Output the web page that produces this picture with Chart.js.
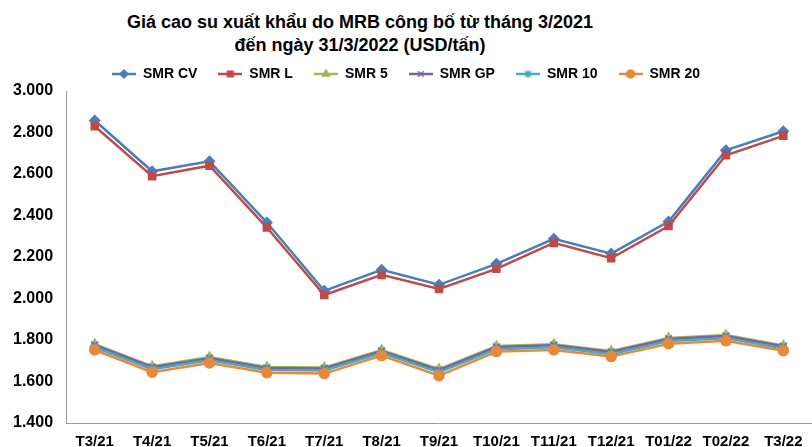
<!DOCTYPE html>
<html>
<head>
<meta charset="utf-8">
<script src="https://cdn.jsdelivr.net/npm/chart.js@4"></script>
<style>
  html, body { margin: 0; padding: 0; background: #fff; }
  #wrap { position: relative; width: 812px; height: 447px; }
  #title {
    position: absolute; left: 0; top: 11px; width: 720px;
    text-align: center; font: bold 18px "Liberation Sans", Arial, sans-serif;
    line-height: 23px; color: #000;
  }
  canvas { position: absolute; left: 0; top: 0; }
</style>
</head>
<body>
<div id="wrap">
  <div id="title">Giá cao su xuất khẩu do MRB công bố từ tháng 3/2021<br>đến ngày 31/3/2022 (USD/tấn)</div>
  <canvas id="chart" width="812" height="447"></canvas>
</div>
<script>
// categories and series (USD/tấn)
const months = ['T3/21', 'T4/21', 'T5/21', 'T6/21', 'T7/21', 'T8/21', 'T9/21',
                'T10/21', 'T11/21', 'T12/21', 'T01/22', 'T02/22', 'T3/22'];
const smrCV = [2858, 2613, 2661, 2366, 2037, 2138, 2066, 2167, 2288, 2216, 2371, 2714, 2806];
const smrL  = [2830, 2589, 2640, 2342, 2017, 2114, 2046, 2143, 2268, 2194, 2349, 2690, 2784];
const smr5  = [1780, 1674, 1718, 1670, 1668, 1752, 1660, 1771, 1780, 1747, 1810, 1824, 1774];
const smrGP = [1775, 1669, 1712, 1665, 1663, 1747, 1655, 1766, 1775, 1742, 1805, 1819, 1769];
const smr10 = [1765, 1659, 1702, 1655, 1653, 1737, 1645, 1756, 1765, 1732, 1795, 1809, 1759];
const smr20 = [1752, 1645, 1689, 1642, 1638, 1725, 1628, 1744, 1752, 1720, 1782, 1796, 1748];
const yTicks = [1400, 1600, 1800, 2000, 2200, 2400, 2600, 2800, 3000];

const FONT = '"Liberation Sans", Arial, sans-serif';

const series = [
    { label: 'SMR CV', data: smrCV, color: '#4A7EBB', style: 'rectRot', r: 5 },
    { label: 'SMR L',  data: smrL,  color: '#BE4B48', style: 'rect',    r: 5 },
    { label: 'SMR 5',  data: smr5,  color: '#98B954', style: 'triangle', r: 5 },
    { label: 'SMR GP', data: smrGP, color: '#7D60A0', style: 'crossRot', r: 5 },
    { label: 'SMR 10', data: smr10, color: '#46AAC5', style: 'star',    r: 5 },
    { label: 'SMR 20', data: smr20, color: '#E8883A', style: 'circle',  r: 5 }
];

// small line+marker swatch for the legend
function swatch(s) {
    const c = document.createElement('canvas');
    c.width = 24; c.height = 12;
    const g = c.getContext('2d');
    g.strokeStyle = s.color; g.fillStyle = s.color; g.lineWidth = 2.5;
    g.beginPath(); g.moveTo(0, 6); g.lineTo(24, 6); g.stroke();
    g.lineWidth = 1.5;
    Chart.helpers.drawPoint(g, {
        pointStyle: s.style, radius: 4, borderWidth: 1.5, rotation: 0
    }, 12, 6);
    return c;
}

const datasets = series.map((s, i) => ({
    label: s.label,
    data: s.data,
    borderColor: s.color,
    backgroundColor: s.color,
    borderWidth: 2.5,
    pointStyle: s.style,
    pointRadius: s.r,
    pointBorderWidth: 1.5,
    pointBackgroundColor: s.color,
    pointBorderColor: s.color,
    tension: 0,
    order: -i
}));

const ctx = document.getElementById('chart').getContext('2d');
new Chart(ctx, {
    type: 'line',
    data: { labels: months, datasets: datasets },
    options: {
        responsive: false,
        animation: false,
        layout: { autoPadding: false, padding: { top: 46, left: 0, right: 0, bottom: -14 } },
        plugins: {
            tooltip: { enabled: false },
            legend: {
                position: 'top',
                labels: {
                    usePointStyle: true,
                    pointStyleWidth: 24,
                    padding: 21,
                    color: '#000',
                    font: { family: FONT, size: 14, weight: 'bold' },
                    generateLabels: () => series.map((s, i) => ({
                        text: s.label,
                        pointStyle: swatch(s),
                        fillStyle: s.color,
                        strokeStyle: s.color,
                        lineWidth: 0,
                        datasetIndex: i,
                        fontColor: '#000'
                    }))
                }
            }
        },
        scales: {
            x: {
                offset: true,
                grid: { display: false, drawTicks: false },
                border: { display: true, color: '#9a9a9a', width: 1 },
                afterFit: (scale) => { scale.paddingRight = 0; scale.paddingLeft = 0; },
                ticks: {
                    color: '#000', padding: 10, maxRotation: 0, autoSkip: false,
                    font: { family: FONT, size: 15, weight: 'bold' }
                }
            },
            y: {
                min: yTicks[0],
                max: yTicks[yTicks.length - 1],
                grid: { display: false, drawTicks: false },
                border: { display: true, color: '#9a9a9a', width: 1 },
                afterBuildTicks: (scale) => { scale.ticks = yTicks.map(v => ({ value: v })); },
                ticks: {
                    color: '#000', padding: 13,
                    font: { family: FONT, size: 16, weight: 'bold' },
                    callback: (v) => v.toLocaleString('de-DE')
                }
            }
        }
    }
});
</script>
</body>
</html>
